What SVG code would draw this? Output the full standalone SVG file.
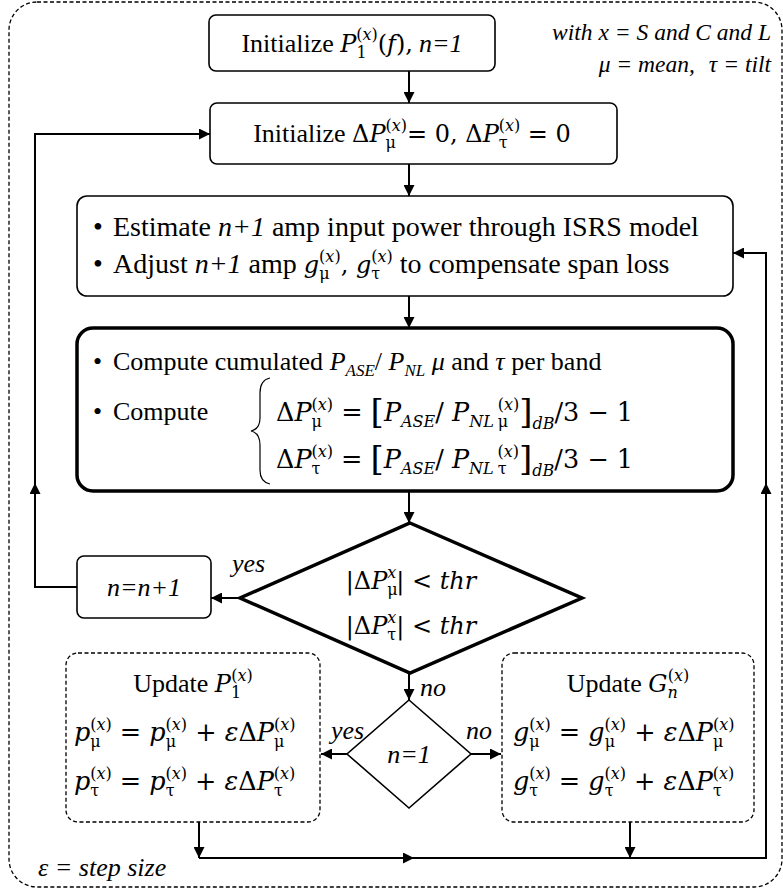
<svg xmlns="http://www.w3.org/2000/svg" width="783" height="892" viewBox="0 0 783 892">
<style>
.t{font-family:"Liberation Serif","Times New Roman",serif;font-size:26px;fill:#000}
.t28{font-size:28px}
.i{font-style:italic}
.s{font-size:17px}
.m{font-family:"DejaVu Serif",serif;font-size:24px}
.eq{font-size:25.5px}
.ms{font-family:"DejaVu Serif",serif;font-size:16px}
.box{fill:#fff;stroke:#000;stroke-width:1.6}
.thick{stroke-width:3.5}
.dash{fill:none;stroke:#000;stroke-width:1.3;stroke-dasharray:4 2.5}
.conn{fill:none;stroke:#000;stroke-width:2}
.ann{font-family:"Liberation Serif","Times New Roman",serif;font-size:23.5px;font-style:italic;fill:#000}
</style>
<defs>
<marker id="ah" viewBox="0 0 10 10" refX="10" refY="5" markerWidth="11" markerHeight="11" markerUnits="userSpaceOnUse" orient="auto"><path d="M0,0 L10,5 L0,10 z" fill="#000"/></marker>
</defs>
<rect id="frame" x="9" y="2" width="773" height="885" rx="28" class="dash"/>

<g id="connectors">
<path class="conn" d="M409,71 L409,103" marker-end="url(#ah)"/>
<path class="conn" d="M409,164 L409,196" marker-end="url(#ah)"/>
<path class="conn" d="M409,296 L409,328" marker-end="url(#ah)"/>
<path class="conn" d="M409,491 L409,523" marker-end="url(#ah)"/>
<path class="conn" d="M240,598 L211,598" marker-end="url(#ah)"/>
<path class="conn" d="M77,587 L35,587 L35,134 L210,134" marker-end="url(#ah)"/>
<path class="conn" d="M35,500 L35,483" marker-end="url(#ah)"/>
<path class="conn" d="M409,673 L409,700" marker-end="url(#ah)"/>
<path class="conn" d="M347,754 L321,754" marker-end="url(#ah)"/>
<path class="conn" d="M471,754 L501,754" marker-end="url(#ah)"/>
<path class="conn" d="M199,822 L199,858" marker-end="url(#ah)"/>
<path class="conn" d="M630,822 L630,858" marker-end="url(#ah)"/>
<path class="conn" d="M199,858 L766,858 L766,253 L733,253" marker-end="url(#ah)"/>
<path class="conn" d="M395,858 L414,858" marker-end="url(#ah)"/>
<path class="conn" d="M766,500 L766,483" marker-end="url(#ah)"/>
</g>

<g id="annotation">
<text class="ann" x="771" y="40" text-anchor="end">with x = S and C and L</text>
<text class="ann" x="771" y="72" text-anchor="end">μ = mean,<tspan dx="14">τ = tilt</tspan></text>
</g>

<g id="init1">
<rect class="box" x="209" y="15" width="286" height="56" rx="7"/>
<text class="t" x="352" y="52" text-anchor="middle">Initialize <tspan class="m i" font-size="26">P</tspan><tspan class="ms" font-size="17" dy="6">1</tspan><tspan class="ms" font-size="17" dx="-10.5" dy="-18">(</tspan><tspan class="ms i" font-size="17">x</tspan><tspan class="ms" font-size="17">)</tspan><tspan class="m" font-size="26" dy="12">(</tspan><tspan class="m i" font-size="26">f</tspan><tspan class="m" font-size="26">),</tspan><tspan class="i" dx="6">n=1</tspan></text>
</g>

<g id="init2">
<rect class="box" x="210" y="103" width="407" height="61" rx="7"/>
<text class="t" x="412" y="142" text-anchor="middle">Initialize <tspan class="m">Δ</tspan><tspan class="m i">P</tspan><tspan class="ms" dy="6">μ</tspan><tspan class="ms" dx="-10.5" dy="-17">(</tspan><tspan class="ms i">x</tspan><tspan class="ms">)</tspan><tspan class="m" dy="11">= 0, Δ</tspan><tspan class="m i">P</tspan><tspan class="ms" dy="6">τ</tspan><tspan class="ms" dx="-9" dy="-17">(</tspan><tspan class="ms i">x</tspan><tspan class="ms">)</tspan><tspan class="m" dy="11"> = 0</tspan></text>
</g>

<g id="estimate">
<rect class="box" x="77" y="196" width="656" height="100" rx="10"/>
<text class="t t28" x="93" y="236">•<tspan x="113">Estimate </tspan><tspan class="i">n+1</tspan> amp input power through ISRS model</text>
<text class="t t28" x="93" y="273">•<tspan x="113">Adjust </tspan><tspan class="i">n+1</tspan> amp <tspan class="m i">g</tspan><tspan class="ms" dy="6">μ</tspan><tspan class="ms" dx="-10.5" dy="-17">(</tspan><tspan class="ms i">x</tspan><tspan class="ms">)</tspan><tspan class="m" dy="11">, </tspan><tspan class="m i">g</tspan><tspan class="ms" dy="6">τ</tspan><tspan class="ms" dx="-9" dy="-17">(</tspan><tspan class="ms i">x</tspan><tspan class="ms">)</tspan><tspan dy="11"> to compensate span loss</tspan></text>
</g>

<g id="compute">
<rect class="box thick" x="77" y="328" width="656" height="163" rx="16"/>
<text class="t" x="93" y="370">•<tspan x="113">Compute cumulated </tspan><tspan class="i">P</tspan><tspan class="s i" dy="6">ASE</tspan><tspan dy="-6">/ </tspan><tspan class="i">P</tspan><tspan class="s i" dy="6">NL</tspan><tspan class="i" dy="-6"> μ</tspan> and <tspan class="i">τ</tspan> per band</text>
<text class="t" x="93" y="420">•<tspan x="113">Compute</tspan></text>
<path d="M270,378 Q260,380 260,393 L260,418 Q260,429 251,431 Q260,433 260,445 L260,470 Q260,482 270,484" fill="none" stroke="#000" stroke-width="1.2"/>
<text class="m eq" x="276" y="421">Δ<tspan class="i">P</tspan><tspan class="ms" dy="6">μ</tspan><tspan class="ms" dx="-10.5" dy="-17">(</tspan><tspan class="ms i">x</tspan><tspan class="ms">)</tspan><tspan dy="11"> = </tspan><tspan font-size="34" dy="2">[</tspan><tspan class="i" dy="-2">P</tspan><tspan class="ms i" dy="6">ASE</tspan><tspan dy="-6">/ </tspan><tspan class="i">P</tspan><tspan class="ms i" dy="6">NL</tspan><tspan class="ms" dx="4">μ</tspan><tspan class="ms" dx="-10.5" dy="-17">(</tspan><tspan class="ms i">x</tspan><tspan class="ms">)</tspan><tspan font-size="34" dy="13">]</tspan><tspan class="ms i" dy="6">dB</tspan><tspan dy="-8">/3 − 1</tspan></text>
<text class="m eq" x="276" y="468">Δ<tspan class="i">P</tspan><tspan class="ms" dy="6">τ</tspan><tspan class="ms" dx="-9" dy="-17">(</tspan><tspan class="ms i">x</tspan><tspan class="ms">)</tspan><tspan dy="11"> = </tspan><tspan font-size="34" dy="2">[</tspan><tspan class="i" dy="-2">P</tspan><tspan class="ms i" dy="6">ASE</tspan><tspan dy="-6">/ </tspan><tspan class="i">P</tspan><tspan class="ms i" dy="6">NL</tspan><tspan class="ms" dx="4">τ</tspan><tspan class="ms" dx="-9" dy="-17">(</tspan><tspan class="ms i">x</tspan><tspan class="ms">)</tspan><tspan font-size="34" dy="13">]</tspan><tspan class="ms i" dy="6">dB</tspan><tspan dy="-8">/3 − 1</tspan></text>
</g>

<g id="check">
<polygon class="box thick" points="410,523 582,598 410,673 240,598"/>
<text class="m" x="411" y="589" text-anchor="middle">|Δ<tspan class="i">P</tspan><tspan class="ms" dy="6">μ</tspan><tspan class="ms i" dx="-10.5" dy="-17">x</tspan><tspan dy="11">| &lt; </tspan><tspan class="i">thr</tspan></text>
<text class="m" x="411" y="634" text-anchor="middle">|Δ<tspan class="i">P</tspan><tspan class="ms" dy="6">τ</tspan><tspan class="ms i" dx="-9" dy="-17">x</tspan><tspan dy="11">| &lt; </tspan><tspan class="i">thr</tspan></text>
</g>

<g id="labels">
<text class="t i" x="232" y="572">yes</text>
<text class="t i" x="420" y="696">no</text>
<text class="t i" x="331" y="739">yes</text>
<text class="t i" x="466" y="739">no</text>
<text class="t i" x="38" y="876" font-size="23">ε = step size</text>
</g>

<g id="incr">
<rect class="box" x="77" y="556" width="134" height="62" rx="7"/>
<text class="t i" x="144" y="596" text-anchor="middle">n=n+1</text>
</g>

<g id="nis1">
<polygon class="box" points="409,700 471,754 409,808 347,754"/>
<text class="t i" x="409" y="763" text-anchor="middle">n=1</text>
</g>

<g id="updP">
<rect class="dash" x="66" y="653" width="254" height="169" rx="12"/>
<text class="t" x="193" y="692" text-anchor="middle">Update <tspan class="m i">P</tspan><tspan class="ms" dy="6">1</tspan><tspan class="ms" dx="-10" dy="-17">(</tspan><tspan class="ms i">x</tspan><tspan class="ms">)</tspan></text>
<text class="m eq" x="74" y="741"><tspan class="i">p</tspan><tspan class="ms" dy="6">μ</tspan><tspan class="ms" dx="-10.5" dy="-17">(</tspan><tspan class="ms i">x</tspan><tspan class="ms">)</tspan><tspan dy="11"> = </tspan><tspan class="i">p</tspan><tspan class="ms" dy="6">μ</tspan><tspan class="ms" dx="-10.5" dy="-17">(</tspan><tspan class="ms i">x</tspan><tspan class="ms">)</tspan><tspan dy="11"> + </tspan><tspan class="i">ε</tspan>Δ<tspan class="i">P</tspan><tspan class="ms" dy="6">μ</tspan><tspan class="ms" dx="-10.5" dy="-17">(</tspan><tspan class="ms i">x</tspan><tspan class="ms">)</tspan></text>
<text class="m eq" x="74" y="790"><tspan class="i">p</tspan><tspan class="ms" dy="6">τ</tspan><tspan class="ms" dx="-9" dy="-17">(</tspan><tspan class="ms i">x</tspan><tspan class="ms">)</tspan><tspan dy="11"> = </tspan><tspan class="i">p</tspan><tspan class="ms" dy="6">τ</tspan><tspan class="ms" dx="-9" dy="-17">(</tspan><tspan class="ms i">x</tspan><tspan class="ms">)</tspan><tspan dy="11"> + </tspan><tspan class="i">ε</tspan>Δ<tspan class="i">P</tspan><tspan class="ms" dy="6">τ</tspan><tspan class="ms" dx="-9" dy="-17">(</tspan><tspan class="ms i">x</tspan><tspan class="ms">)</tspan></text>
</g>

<g id="updG">
<rect class="dash" x="502" y="653" width="252" height="169" rx="12"/>
<text class="t" x="628" y="692" text-anchor="middle">Update <tspan class="m i">G</tspan><tspan class="ms i" dy="6">n</tspan><tspan class="ms" dx="-10" dy="-17">(</tspan><tspan class="ms i">x</tspan><tspan class="ms">)</tspan></text>
<text class="m eq" x="513" y="741"><tspan class="i">g</tspan><tspan class="ms" dy="6">μ</tspan><tspan class="ms" dx="-10.5" dy="-17">(</tspan><tspan class="ms i">x</tspan><tspan class="ms">)</tspan><tspan dy="11"> = </tspan><tspan class="i">g</tspan><tspan class="ms" dy="6">μ</tspan><tspan class="ms" dx="-10.5" dy="-17">(</tspan><tspan class="ms i">x</tspan><tspan class="ms">)</tspan><tspan dy="11"> + </tspan><tspan class="i">ε</tspan>Δ<tspan class="i">P</tspan><tspan class="ms" dy="6">μ</tspan><tspan class="ms" dx="-10.5" dy="-17">(</tspan><tspan class="ms i">x</tspan><tspan class="ms">)</tspan></text>
<text class="m eq" x="513" y="790"><tspan class="i">g</tspan><tspan class="ms" dy="6">τ</tspan><tspan class="ms" dx="-9" dy="-17">(</tspan><tspan class="ms i">x</tspan><tspan class="ms">)</tspan><tspan dy="11"> = </tspan><tspan class="i">g</tspan><tspan class="ms" dy="6">τ</tspan><tspan class="ms" dx="-9" dy="-17">(</tspan><tspan class="ms i">x</tspan><tspan class="ms">)</tspan><tspan dy="11"> + </tspan><tspan class="i">ε</tspan>Δ<tspan class="i">P</tspan><tspan class="ms" dy="6">τ</tspan><tspan class="ms" dx="-9" dy="-17">(</tspan><tspan class="ms i">x</tspan><tspan class="ms">)</tspan></text>
</g>
</svg>
